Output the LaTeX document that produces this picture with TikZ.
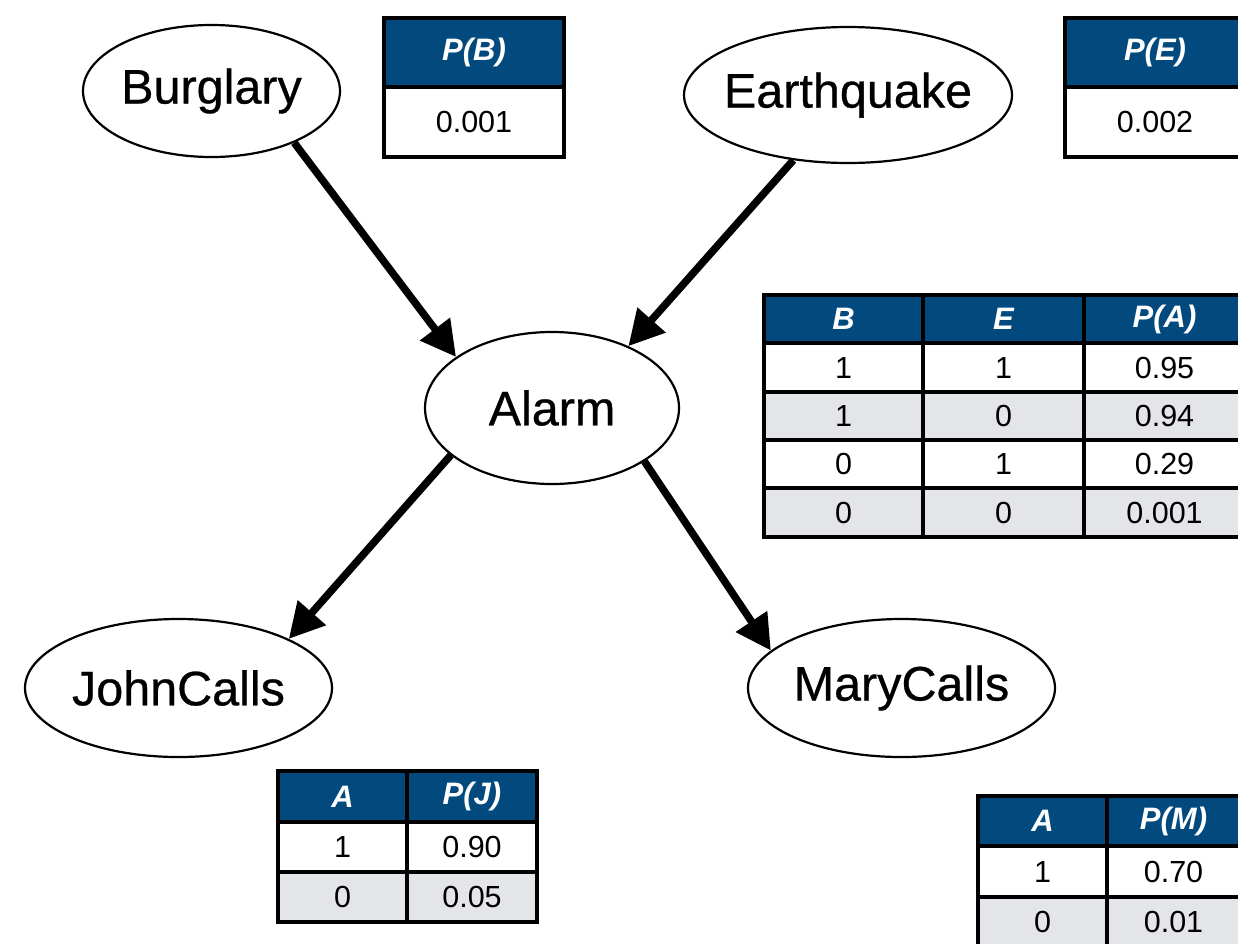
\documentclass[tikz,border=0pt]{standalone}
\usepackage{fontspec}
\setmainfont{Liberation Sans}
\newfontfamily\labelfont{Liberation Sans}[FakeBold=0.6]
\usetikzlibrary{arrows.meta,shapes.geometric}
\definecolor{hdrblue}{RGB}{2,74,125}
\definecolor{rowgray}{RGB}{228,229,233}
% label text that leaves the ellipse size to the given minimum dimensions
\newcommand{\varname}[1]{\makebox[0pt]{#1}}

\begin{document}
\begin{tikzpicture}[x=1pt,y=-1pt,
  var/.style={ellipse,draw,line width=2.2pt,inner sep=0pt,fill=white,
    font=\labelfont\fontsize{48.5}{58}\selectfont},
  cell/.style={rectangle,draw,line width=3.5pt,inner sep=0pt,outer sep=0pt,
    anchor=north west,font=\fontsize{30.5}{36}\selectfont},
  hdr/.style={cell,fill=hdrblue,text=white,
    font=\fontsize{31}{36}\selectfont\bfseries\itshape},
  oddrow/.style={cell,fill=white},
  evenrow/.style={cell,fill=rowgray},
  link/.style={line width=7.5pt,-{Triangle[length=35pt,width=36pt]}}
]
\useasboundingbox (0,0) rectangle (1238,943);
\clip (0,0) rectangle (1238,943);
\fill[white] (0,0) rectangle (1238,943);

% variables of the network
\node[var,minimum width=257pt,minimum height=132pt] (burg)  at (211.5,91)  {\varname{Burglary}};
\node[var,minimum width=328pt,minimum height=136pt] (quake) at (848,95)    {\varname{Earthquake}};
\node[var,minimum width=254pt,minimum height=152pt] (alarm) at (552,408)   {\varname{Alarm}};
\node[var,minimum width=307pt,minimum height=138pt] (john)  at (178.5,688) {\varname{JohnCalls}};
\node[var,minimum width=307pt,minimum height=138pt] (mary)  at (901.5,688) {\varname{MaryCalls}};

% directed edges
\draw[link] (burg.-32)  -- (alarm.152);
\draw[link] (quake.230) -- (alarm.39);
\draw[link] (alarm.205) -- (john.24);
\draw[link] (alarm.-30) -- (mary.164);

% prior of Burglary
\node[hdr,minimum width=180pt,minimum height=69pt] (pbh) at (384,18) {P(B)};
\node[oddrow,minimum width=180pt,minimum height=70pt] (pbv) at (384,87) {0.001};

% prior of Earthquake
\node[hdr,minimum width=180pt,minimum height=69pt] (peh) at (1065,18) {P(E)};
\node[oddrow,minimum width=180pt,minimum height=70pt] (pev) at (1065,87) {0.002};

% conditional table of Alarm
\node[hdr,minimum width=159pt,minimum height=48pt] (ah1) at (764,295)  {B};
\node[hdr,minimum width=161pt,minimum height=48pt] (ah2) at (923,295)  {E};
\node[hdr,minimum width=161pt,minimum height=48pt] (ah3) at (1084,295) {P(A)};
\node[oddrow,minimum width=159pt,minimum height=49pt]  (a11) at (764,343)  {1};
\node[oddrow,minimum width=161pt,minimum height=49pt]  (a12) at (923,343)  {1};
\node[oddrow,minimum width=161pt,minimum height=49pt]  (a13) at (1084,343) {0.95};
\node[evenrow,minimum width=159pt,minimum height=48pt] (a21) at (764,392)  {1};
\node[evenrow,minimum width=161pt,minimum height=48pt] (a22) at (923,392)  {0};
\node[evenrow,minimum width=161pt,minimum height=48pt] (a23) at (1084,392) {0.94};
\node[oddrow,minimum width=159pt,minimum height=48pt]  (a31) at (764,440)  {0};
\node[oddrow,minimum width=161pt,minimum height=48pt]  (a32) at (923,440)  {1};
\node[oddrow,minimum width=161pt,minimum height=48pt]  (a33) at (1084,440) {0.29};
\node[evenrow,minimum width=159pt,minimum height=49pt] (a41) at (764,488)  {0};
\node[evenrow,minimum width=161pt,minimum height=49pt] (a42) at (923,488)  {0};
\node[evenrow,minimum width=161pt,minimum height=49pt] (a43) at (1084,488) {0.001};

% conditional table of JohnCalls
\node[hdr,minimum width=129pt,minimum height=51pt] (jh1) at (278,771) {A};
\node[hdr,minimum width=130pt,minimum height=51pt] (jh2) at (407,771) {P(J)};
\node[oddrow,minimum width=129pt,minimum height=50pt]  (j11) at (278,822) {1};
\node[oddrow,minimum width=130pt,minimum height=50pt]  (j12) at (407,822) {0.90};
\node[evenrow,minimum width=129pt,minimum height=50pt] (j21) at (278,872) {0};
\node[evenrow,minimum width=130pt,minimum height=50pt] (j22) at (407,872) {0.05};

% conditional table of MaryCalls
\node[hdr,minimum width=129pt,minimum height=50pt] (mh1) at (978,796)  {A};
\node[hdr,minimum width=133pt,minimum height=50pt] (mh2) at (1107,796) {P(M)};
\node[oddrow,minimum width=129pt,minimum height=51pt]  (m11) at (978,846)  {1};
\node[oddrow,minimum width=133pt,minimum height=51pt]  (m12) at (1107,846) {0.70};
\node[evenrow,minimum width=129pt,minimum height=50pt] (m21) at (978,897)  {0};
\node[evenrow,minimum width=133pt,minimum height=50pt] (m22) at (1107,897) {0.01};
\end{tikzpicture}
\end{document}
